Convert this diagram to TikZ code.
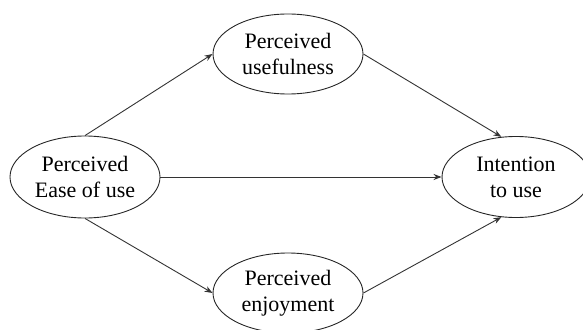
\documentclass[tikz,border=0pt]{standalone}
\usepackage{fontspec}
\setmainfont{Liberation Serif}
\usetikzlibrary{shapes.geometric,arrows.meta}
\begin{document}
\begin{tikzpicture}[x=1pt,y=-1pt,
    construct/.style={ellipse,draw=black!85,line width=0.9pt,inner sep=0pt,
      minimum width=150pt,minimum height=80pt,align=center,
      font=\fontsize{22}{26}\selectfont},
    link/.style={draw=black!80,line width=0.9pt,-{Stealth[length=8pt,width=6pt]}}]
  \useasboundingbox (0,0) rectangle (583,329);
  \draw
    (85,177) node[construct,minimum height=82pt] (peou){Perceived\\Ease of use}
    (288,54) node[construct] (pu){Perceived\\usefulness}
    (516,177) node[construct,minimum width=148pt,minimum height=81pt] (itu){Intention\\to use}
    (288,293) node[construct] (pe){Perceived\\enjoyment};
  \begin{scope}[link]
    \draw (peou.north) to (pu.west);
    \draw (peou.east) to (itu.west);
    \draw (peou.south) to (pe.west);
    \draw (pu.east) to (itu.110);
    \draw (pe.east) to (itu.250);
  \end{scope}
\end{tikzpicture}
\end{document}
